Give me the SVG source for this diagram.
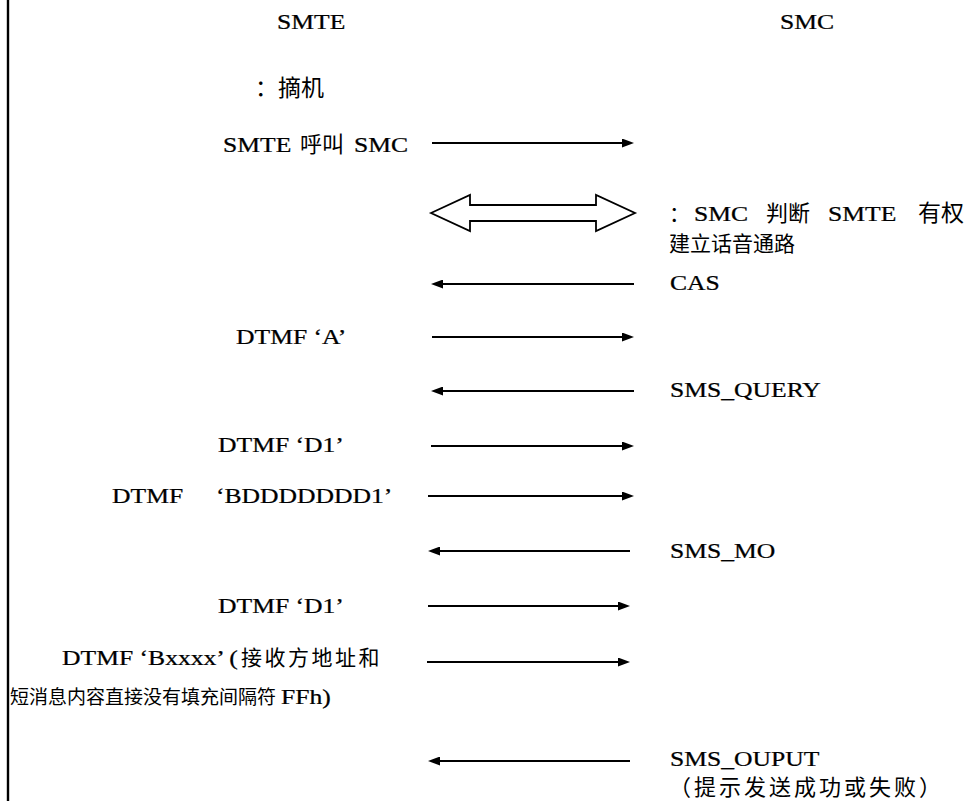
<svg xmlns="http://www.w3.org/2000/svg" width="976" height="801" viewBox="0 0 976 801">
<style>
text{fill:#000}
.L{font-family:"Liberation Serif",serif;font-size:21px;stroke:#000;stroke-width:0.25}
.k{font-family:"Noto Sans CJK SC",sans-serif;font-size:21px}
.c{stroke:#000;stroke-width:2;fill:none}
.blk{fill:none;stroke:#000;stroke-width:1.8;stroke-linejoin:miter}
</style>
<defs>
<marker id="ah" markerUnits="userSpaceOnUse" markerWidth="12" markerHeight="9" refX="6" refY="4.5" orient="auto">
<path d="M0,0 L12,4.5 L0,9 z" fill="#000"/>
</marker>
</defs>
<rect width="976" height="801" fill="#fff"/>
<line x1="8" y1="0" x2="8" y2="801" stroke="#000" stroke-width="2.4"/>

<g id="n-smte"><text class="L" transform="translate(277,29) scale(1.22,1)">SMTE</text></g>
<g id="n-smc"><text class="L" transform="translate(780,29) scale(1.22,1)">SMC</text></g>
<g id="n-offhook"><text class="k" x="255" y="96" style="font-size:23px">：摘机</text></g>
<g id="n-call">
<text class="L" transform="translate(223,152) scale(1.22,1)">SMTE</text>
<text class="k" x="300" y="152" style="font-size:22px">呼叫</text>
<text class="L" transform="translate(354,152) scale(1.22,1)">SMC</text>
</g>
<g id="n-judge">
<text class="k" x="669" y="221">：</text>
<text class="L" transform="translate(694,221) scale(1.22,1)">SMC</text>
<text class="k" x="766" y="221" style="font-size:22px">判断</text>
<text class="L" transform="translate(828,221) scale(1.22,1)">SMTE</text>
<text class="k" x="918" y="221" style="font-size:23px">有权</text>
<text class="k" x="669" y="251">建立话音通路</text>
</g>
<g id="n-cas"><text class="L" transform="translate(670,290) scale(1.22,1)">CAS</text></g>
<g id="n-dtmfa"><text class="L" transform="translate(236,344) scale(1.22,1)">DTMF ‘A’</text></g>
<g id="n-query"><text class="L" transform="translate(670,397) scale(1.22,1)">SMS_QUERY</text></g>
<g id="n-d1a"><text class="L" transform="translate(218,452) scale(1.22,1)">DTMF ‘D1’</text></g>
<g id="n-bddd">
<text class="L" transform="translate(112,503) scale(1.22,1)">DTMF</text>
<text class="L" transform="translate(216,503) scale(1.22,1)">‘BDDDDDDD1’</text>
</g>
<g id="n-mo"><text class="L" transform="translate(670,558) scale(1.22,1)">SMS_MO</text></g>
<g id="n-d1b"><text class="L" transform="translate(218,613) scale(1.22,1)">DTMF ‘D1’</text></g>
<g id="n-bxxxx">
<text class="L" transform="translate(62,665) scale(1.22,1)">DTMF ‘Bxxxx’ (</text>
<text class="k" x="241" y="665" letter-spacing="2.5">接收方地址和</text>
<text class="k" x="10" y="704" style="font-size:19px">短消息内容直接没有填充间隔符</text>
<text class="L" transform="translate(281,704) scale(1.22,1)">FFh)</text>
</g>
<g id="n-output">
<text class="L" transform="translate(670,766) scale(1.22,1)">SMS_OUPUT</text>
<text class="k" x="669" y="795" style="font-size:22px" letter-spacing="3">（提示发送成功或失败）</text>
</g>

<g id="connectors">
<line class="c" x1="432" y1="143" x2="628" y2="143" marker-end="url(#ah)"/>
<polygon class="blk" points="431,213 470,195 470,205 596,205 596,195 635,213 596,231 596,221 470,221 470,231"/>
<line class="c" x1="634" y1="284" x2="437" y2="284" marker-end="url(#ah)"/>
<line class="c" x1="432" y1="337" x2="628" y2="337" marker-end="url(#ah)"/>
<line class="c" x1="634" y1="391" x2="437" y2="391" marker-end="url(#ah)"/>
<line class="c" x1="431" y1="446" x2="628" y2="446" marker-end="url(#ah)"/>
<line class="c" x1="428" y1="496" x2="628" y2="496" marker-end="url(#ah)"/>
<line class="c" x1="630" y1="551" x2="434" y2="551" marker-end="url(#ah)"/>
<line class="c" x1="428" y1="606" x2="624" y2="606" marker-end="url(#ah)"/>
<line class="c" x1="427" y1="662" x2="624" y2="662" marker-end="url(#ah)"/>
<line class="c" x1="630" y1="761" x2="434" y2="761" marker-end="url(#ah)"/>
</g>
</svg>
